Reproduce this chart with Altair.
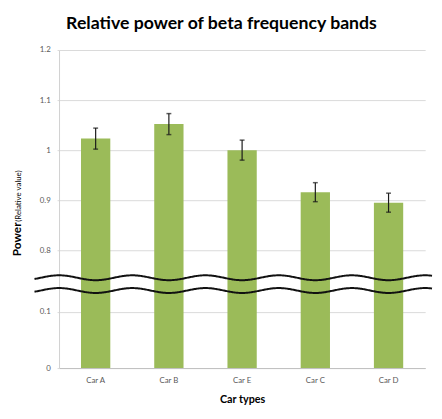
import altair as alt
import numpy as np
import pandas as pd

# ---- data ----
cars = ["Car A", "Car B", "Car E", "Car C", "Car D"]
power = [1.023, 1.052, 1.000, 0.916, 0.895]
err = [0.021, 0.021, 0.020, 0.019, 0.019]
y_ticks = [0, 0.1, 0.8, 0.9, 1.0, 1.1, 1.2]

W, H = 373, 324
# broken axis: piecewise linear scale (0..0.14 bottom part, 0.745..1.2 top part)
y_domain = [0, 0.14, 0.745, 1.2]
y_range = [H, 244, 232, 0]

df = pd.DataFrame({
    "car": cars,
    "power": power,
    "lo": [p - e for p, e in zip(power, err)],
    "hi": [p + e for p, e in zip(power, err)],
})

FONT = "Lato"
GREEN = "#9BBB59"

yscale = alt.Scale(domain=y_domain, range=y_range, nice=False, zero=False)
xscale = alt.Scale(domain=cars, paddingInner=0.6, paddingOuter=0.3)

x_enc = alt.X("car:N", scale=xscale, sort=cars,
              axis=alt.Axis(title="Car types", labelAngle=0, ticks=False,
                            labelFontSize=8, labelColor="#595959", labelFont=FONT,
                            labelPadding=9, titleFont=FONT, titleFontSize=11,
                            titleFontWeight="bold", titleColor="#000000",
                            titlePadding=9, domainColor="#bfbfbf", grid=False))

bars = alt.Chart(df).mark_bar(color=GREEN).encode(
    x=x_enc,
    y=alt.Y("power:Q", scale=yscale,
            axis=alt.Axis(title=None, values=y_ticks, format="~g",
                          labelFontSize=8, labelColor="#595959", labelFont=FONT,
                          labelPadding=7, tickSize=2, tickColor="#d9d9d9",
                          gridColor="#d9d9d9", domainColor="#d0d0d0")),
)

rules = alt.Chart(df).mark_rule(color="#1a1a1a", strokeWidth=1.2).encode(
    x=alt.X("car:N", scale=xscale, sort=cars),
    y=alt.Y("lo:Q", scale=yscale),
    y2="hi:Q",
)
caps_lo = alt.Chart(df).mark_tick(color="#1a1a1a", size=5, thickness=1.5).encode(
    x=alt.X("car:N", scale=xscale, sort=cars),
    y=alt.Y("lo:Q", scale=yscale),
)
caps_hi = alt.Chart(df).mark_tick(color="#1a1a1a", size=5, thickness=1.5).encode(
    x=alt.X("car:N", scale=xscale, sort=cars),
    y=alt.Y("hi:Q", scale=yscale),
)

# y-axis title in two styles
ytitle_a = alt.Chart(pd.DataFrame({"t": ["Power"]})).mark_text(
    angle=270, align="left", baseline="alphabetic", font=FONT,
    fontSize=12, fontWeight="bold", color="#000000"
).encode(text="t:N", x=alt.value(-39), y=alt.value(210))
ytitle_b = alt.Chart(pd.DataFrame({"t": ["(Relative value)"]})).mark_text(
    angle=270, align="left", baseline="alphabetic", font=FONT,
    fontSize=8, color="#000000"
).encode(text="t:N", x=alt.value(-39), y=alt.value(175))

main = alt.layer(bars, rules, caps_lo, caps_hi, ytitle_a, ytitle_b)

# axis-break decoration (two parallel wavy lines), in pixel space
px = np.arange(-25, 381, 1.0)
step = W / len(cars)
wave = 2.5 * np.cos(2 * np.pi * (px - step / 2) / step)
brk = pd.DataFrame({
    "px": np.concatenate([px, px]),
    "py": np.concatenate([232 + wave, 245 + wave]),
    "line": ["top"] * len(px) + ["bottom"] * len(px),
})
breaks = alt.Chart(brk).mark_line(color="#111111", strokeWidth=2).encode(
    x=alt.X("px:Q", scale=None, axis=None),
    y=alt.Y("py:Q", scale=None, axis=None),
    detail="line:N",
)

chart = alt.layer(main, breaks).resolve_scale(x="independent", y="independent").properties(
    width=W, height=H,
    title=alt.TitleParams("Relative power of beta frequency bands", font=FONT,
                          fontSize=18, fontWeight="bold", color="#000000",
                          anchor="middle", dx=-21, offset=13),
    autosize=alt.AutoSizeParams(type="none"),
    padding={"left": 52, "top": 39, "right": 9, "bottom": 44},
).configure_view(stroke=None)

chart.save("out.html", embed_options={"renderer": "svg", "actions": False})
